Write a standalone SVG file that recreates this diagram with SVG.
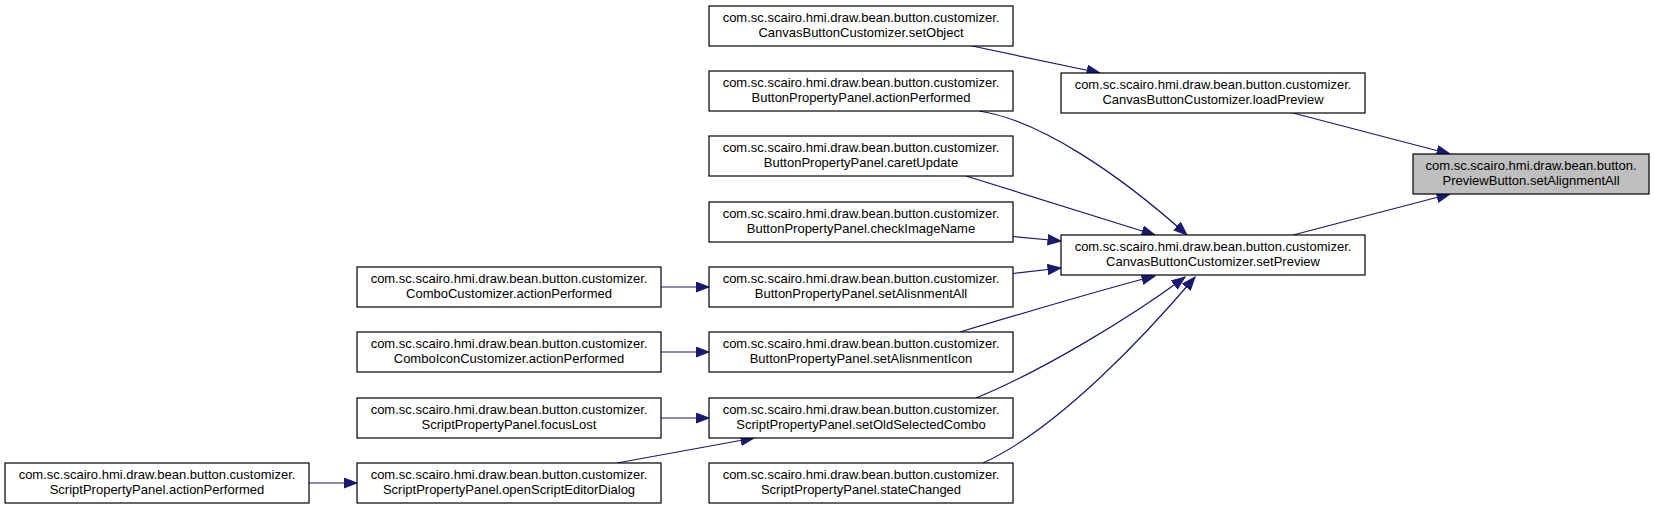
<svg xmlns="http://www.w3.org/2000/svg" width="1655" height="509" viewBox="0 0 1655 509">
<style>
.node rect{fill:#ffffff;stroke:#000000;stroke-width:1.2}
.node.hl rect{fill:#bfbfbf}
.node text{font-family:"Liberation Sans",Arial,sans-serif;font-size:13px;fill:#000000;text-anchor:middle}
.edges path{fill:none;stroke:#191970;stroke-width:1.2}
</style>
<defs>
<marker id="arr" markerUnits="userSpaceOnUse" markerWidth="15" markerHeight="12" refX="13.5" refY="5.5" orient="auto">
<path d="M0.5,0.5 L13.5,5.5 L0.5,10.5 Z" fill="#191970" stroke="#191970" stroke-width="1"/>
</marker>
</defs>
<rect width="1655" height="509" fill="#ffffff"/>
<g class="edges">
<path d="M972,46 L1100,73" marker-end="url(#arr)"/>
<path d="M979,111 C1040,120 1120,175 1187,235" marker-end="url(#arr)"/>
<path d="M966,176 L1155,235" marker-end="url(#arr)"/>
<path d="M1013,236.5 L1061,241" marker-end="url(#arr)"/>
<path d="M1013,273.5 L1061,268" marker-end="url(#arr)"/>
<path d="M960,332 C1030,311 1100,290 1155,276" marker-end="url(#arr)"/>
<path d="M976,398 C1040,372 1130,318 1185,277" marker-end="url(#arr)"/>
<path d="M983,463 C1060,428 1150,330 1195,277" marker-end="url(#arr)"/>
<path d="M661,287 L709,287" marker-end="url(#arr)"/>
<path d="M661,352 L709,352" marker-end="url(#arr)"/>
<path d="M661,418 L709,418" marker-end="url(#arr)"/>
<path d="M617,463 L754,438" marker-end="url(#arr)"/>
<path d="M309,483 L357,483" marker-end="url(#arr)"/>
<path d="M1293,113 L1450,154" marker-end="url(#arr)"/>
<path d="M1293,235 L1450,194" marker-end="url(#arr)"/>
</g>
<g id="n_setObject" class="node"><rect x="709" y="6" width="304" height="40"/><text x="861" y="21.5">com.sc.scairo.hmi.draw.bean.button.customizer.</text><text x="861" y="36.5">CanvasButtonCustomizer.setObject</text></g>
<g id="n_bppActionPerformed" class="node"><rect x="709" y="71" width="304" height="40"/><text x="861" y="86.5">com.sc.scairo.hmi.draw.bean.button.customizer.</text><text x="861" y="101.5">ButtonPropertyPanel.actionPerformed</text></g>
<g id="n_caretUpdate" class="node"><rect x="709" y="136" width="304" height="40"/><text x="861" y="151.5">com.sc.scairo.hmi.draw.bean.button.customizer.</text><text x="861" y="166.5">ButtonPropertyPanel.caretUpdate</text></g>
<g id="n_checkImageName" class="node"><rect x="709" y="202" width="304" height="40"/><text x="861" y="217.5">com.sc.scairo.hmi.draw.bean.button.customizer.</text><text x="861" y="232.5">ButtonPropertyPanel.checkImageName</text></g>
<g id="n_setAlisnmentAll" class="node"><rect x="709" y="267" width="304" height="40"/><text x="861" y="282.5">com.sc.scairo.hmi.draw.bean.button.customizer.</text><text x="861" y="297.5">ButtonPropertyPanel.setAlisnmentAll</text></g>
<g id="n_setAlisnmentIcon" class="node"><rect x="709" y="332" width="304" height="40"/><text x="861" y="347.5">com.sc.scairo.hmi.draw.bean.button.customizer.</text><text x="861" y="362.5">ButtonPropertyPanel.setAlisnmentIcon</text></g>
<g id="n_setOldSelectedCombo" class="node"><rect x="709" y="398" width="304" height="40"/><text x="861" y="413.5">com.sc.scairo.hmi.draw.bean.button.customizer.</text><text x="861" y="428.5">ScriptPropertyPanel.setOldSelectedCombo</text></g>
<g id="n_stateChanged" class="node"><rect x="709" y="463" width="304" height="40"/><text x="861" y="478.5">com.sc.scairo.hmi.draw.bean.button.customizer.</text><text x="861" y="493.5">ScriptPropertyPanel.stateChanged</text></g>
<g id="n_comboCustomizer" class="node"><rect x="357" y="267" width="304" height="40"/><text x="509" y="282.5">com.sc.scairo.hmi.draw.bean.button.customizer.</text><text x="509" y="297.5">ComboCustomizer.actionPerformed</text></g>
<g id="n_comboIconCustomizer" class="node"><rect x="357" y="332" width="304" height="40"/><text x="509" y="347.5">com.sc.scairo.hmi.draw.bean.button.customizer.</text><text x="509" y="362.5">ComboIconCustomizer.actionPerformed</text></g>
<g id="n_focusLost" class="node"><rect x="357" y="398" width="304" height="40"/><text x="509" y="413.5">com.sc.scairo.hmi.draw.bean.button.customizer.</text><text x="509" y="428.5">ScriptPropertyPanel.focusLost</text></g>
<g id="n_openScriptEditorDialog" class="node"><rect x="357" y="463" width="304" height="40"/><text x="509" y="478.5">com.sc.scairo.hmi.draw.bean.button.customizer.</text><text x="509" y="493.5">ScriptPropertyPanel.openScriptEditorDialog</text></g>
<g id="n_sppActionPerformed" class="node"><rect x="5" y="463" width="304" height="40"/><text x="157" y="478.5">com.sc.scairo.hmi.draw.bean.button.customizer.</text><text x="157" y="493.5">ScriptPropertyPanel.actionPerformed</text></g>
<g id="n_loadPreview" class="node"><rect x="1061" y="73" width="304" height="40"/><text x="1213" y="88.5">com.sc.scairo.hmi.draw.bean.button.customizer.</text><text x="1213" y="103.5">CanvasButtonCustomizer.loadPreview</text></g>
<g id="n_setPreview" class="node"><rect x="1061" y="235" width="304" height="40"/><text x="1213" y="250.5">com.sc.scairo.hmi.draw.bean.button.customizer.</text><text x="1213" y="265.5">CanvasButtonCustomizer.setPreview</text></g>
<g id="n_previewButton" class="node hl"><rect x="1413" y="154" width="236" height="40"/><text x="1531" y="169.8">com.sc.scairo.hmi.draw.bean.button.</text><text x="1531" y="184.8">PreviewButton.setAlignmentAll</text></g>
</svg>
